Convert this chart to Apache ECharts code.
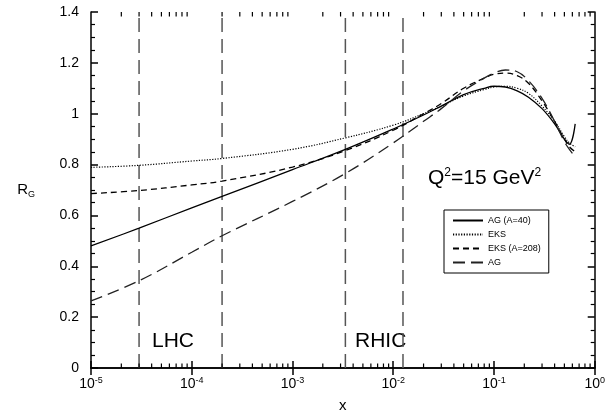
<!DOCTYPE html>
<html>
  <head>
    <meta charset="utf-8">
    <title>R_G vs x</title>
  </head>
  <body style="margin:0">
    <div id="main" style="width: 608px;height:418px;"></div>
  </body>
  <script type="text/javascript" src="https://cdn.jsdelivr.net/npm/echarts@6/dist/echarts.min.js"></script>
  <script type="text/javascript">
      // x points
      var xValues = [1e-5, 3e-5, 1e-4, 2e-4, 1e-3, 3.35e-3, 1e-2, 2e-2, 3e-2, 5e-2, 0.08, 0.1, 0.13, 0.17, 0.22, 0.3, 0.4, 0.5, 0.56, 0.64];
      var agA40  = [0.48, 0.55, 0.63, 0.675, 0.78, 0.86, 0.94, 0.995, 1.03, 1.075, 1.10, 1.108, 1.105, 1.09, 1.065, 1.02, 0.96, 0.90, 0.88, 0.96];
      var eks    = [0.789, 0.797, 0.814, 0.824, 0.86, 0.905, 0.955, 1.00, 1.03, 1.07, 1.095, 1.105, 1.108, 1.10, 1.08, 1.03, 0.97, 0.91, 0.885, 0.87];
      var eks208 = [0.686, 0.698, 0.72, 0.735, 0.79, 0.855, 0.935, 1.0, 1.04, 1.10, 1.14, 1.155, 1.16, 1.15, 1.12, 1.05, 0.97, 0.90, 0.87, 0.85];
      var ag     = [0.264, 0.343, 0.455, 0.52, 0.655, 0.765, 0.885, 0.97, 1.02, 1.09, 1.14, 1.16, 1.172, 1.165, 1.13, 1.06, 0.97, 0.89, 0.86, 0.83];

      // vertical boundaries (LHC / RHIC ranges)
      var rangeLines = [3e-5, 2e-4, 3.35e-3, 1.25e-2];

      // minor tick positions on the log axis: 2..9 in each decade
      var minorX = [];
      for (var d = -5; d < 0; d++) {
          for (var k = 2; k <= 9; k++) minorX.push(k * Math.pow(10, d));
      }

      function pairs(ys) {
          return xValues.map(function (x, i) { return [x, ys[i]]; });
      }

      var myChart = echarts.init(document.getElementById('main'));
      var font = 'Liberation Sans, Arial, sans-serif';

      function axisLine() { return { show: true, lineStyle: { color: '#000', width: 1.5 } }; }
      function axisTick() { return { show: true, inside: true, length: 7, lineStyle: { color: '#000', width: 1.5 } }; }
      function minorTick() { return { show: true, splitNumber: 4, length: 4, lineStyle: { color: '#000', width: 1.2 } }; }

      // short minor tick drawn from the bottom or top edge into the plot
      function tickSeries(yEdge, dir) {
          return {
              type: 'custom', silent: true,
              data: minorX.map(function (x) { return [x, yEdge]; }),
              renderItem: function (params, api) {
                  var p = api.coord([api.value(0), api.value(1)]);
                  return {
                      type: 'line',
                      shape: { x1: p[0], y1: p[1], x2: p[0], y2: p[1] + dir * 4.5 },
                      style: { stroke: '#000', lineWidth: 1.2 }
                  };
              }
          };
      }

      myChart.setOption({
          animation: false,
          grid: { left: 91, right: 10, top: 12, bottom: 49 },
          textStyle: { fontFamily: font },
          legend: {
              orient: 'vertical',
              left: 444, top: 210,
              itemWidth: 30, itemHeight: 8, itemGap: 5,
              padding: [6, 8, 6, 8],
              borderColor: '#000', borderWidth: 1,
              itemStyle: { opacity: 0 },
              textStyle: { fontSize: 9, color: '#000', fontFamily: font },
              data: ['AG (A=40)', 'EKS', 'EKS (A=208)', 'AG']
          },
          xAxis: [
              {
                  type: 'log', logBase: 10, min: 1e-5, max: 1,
                  name: 'x', nameLocation: 'middle', nameGap: 30,
                  nameTextStyle: { fontSize: 15, color: '#000' },
                  axisLine: axisLine(), axisTick: axisTick(), splitLine: { show: false },
                  axisLabel: {
                      color: '#000', fontSize: 14, margin: 8,
                      formatter: function (v) {
                          return '10{s|' + Math.round(Math.log10(v)) + '}';
                      },
                      rich: { s: { fontSize: 9, verticalAlign: 'top', padding: [0, 0, 8, 0] } }
                  }
              },
              {
                  type: 'log', logBase: 10, min: 1e-5, max: 1, position: 'top',
                  axisLine: axisLine(), axisTick: axisTick(), splitLine: { show: false },
                  axisLabel: { show: false }
              }
          ],
          yAxis: [
              {
                  type: 'value', min: 0, max: 1.4, interval: 0.2,
                  name: 'R{g|G}', nameLocation: 'middle', nameGap: 56, nameRotate: 0,
                  nameTextStyle: { fontSize: 15, color: '#000', rich: { g: { fontSize: 9, verticalAlign: 'bottom', padding: [10, 0, 0, 0] } } },
                  axisLine: axisLine(), axisTick: axisTick(), minorTick: minorTick(), splitLine: { show: false },
                  axisLabel: { color: '#000', fontSize: 14, margin: 12 }
              },
              {
                  type: 'value', min: 0, max: 1.4, interval: 0.2, position: 'right',
                  axisLine: axisLine(), axisTick: axisTick(), minorTick: minorTick(), splitLine: { show: false },
                  axisLabel: { show: false }
              }
          ],
          series: [
              {
                  name: 'AG (A=40)', type: 'line', data: pairs(agA40), smooth: 0.4, symbol: 'none',
                  lineStyle: { color: '#000', width: 1.3 },
                  itemStyle: { color: '#000' }
              },
              {
                  name: 'EKS', type: 'line', data: pairs(eks), smooth: 0.4, symbol: 'none',
                  lineStyle: { color: '#000', width: 1.2, type: [1.2, 1.5] },
                  itemStyle: { color: '#000' }
              },
              {
                  name: 'EKS (A=208)', type: 'line', data: pairs(eks208), smooth: 0.4, symbol: 'none',
                  lineStyle: { color: '#000', width: 1.3, type: [6, 4] },
                  itemStyle: { color: '#000' }
              },
              {
                  name: 'AG', type: 'line', data: pairs(ag), smooth: 0.4, symbol: 'none',
                  lineStyle: { color: '#222', width: 1.3, type: [12, 6] },
                  itemStyle: { color: '#000' }
              },
              {
                  // LHC / RHIC boundaries
                  type: 'custom', silent: true,
                  data: rangeLines.map(function (x) { return [x, 0]; }),
                  renderItem: function (params, api) {
                      var b = api.coord([api.value(0), 0]);
                      var t = api.coord([api.value(0), 1.4]);
                      return {
                          type: 'line',
                          shape: { x1: b[0], y1: b[1], x2: t[0], y2: t[1] },
                          style: { stroke: '#555', lineWidth: 1.5, lineDash: [14, 7] }
                      };
                  }
              },
              tickSeries(0, -1),
              tickSeries(1.4, 1)
          ],
          graphic: [
              {
                  type: 'text', left: 428, top: 167,
                  style: {
                      text: 'Q{s|2}=15 GeV{s|2}',
                      font: '21px ' + font, fill: '#000',
                      rich: { s: { fontSize: 12, verticalAlign: 'top', padding: [0, 0, 10, 0] } }
                  }
              },
              { type: 'text', left: 152, top: 331, style: { text: 'LHC', font: '21px ' + font, fill: '#000' } },
              { type: 'text', left: 355, top: 331, style: { text: 'RHIC', font: '21px ' + font, fill: '#000' } }
          ]
      });
  </script>
</html>
